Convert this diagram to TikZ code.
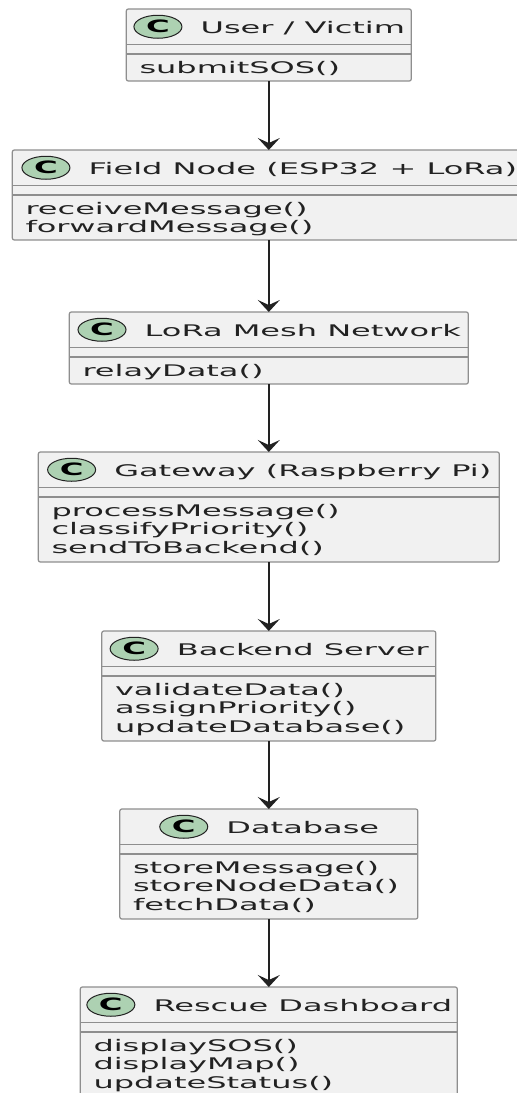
\documentclass[tikz,border=0pt]{standalone}
\usepackage{fontspec}
\setmainfont{DejaVu Sans}[FakeStretch=2.0]
\newfontfamily\spotfont{DejaVu Sans}[FakeStretch=1.9]
\usetikzlibrary{arrows.meta,shapes.geometric}

\definecolor{boxfill}{HTML}{F1F1F1}
\definecolor{boxline}{HTML}{8E8E8E}
\definecolor{spotfill}{HTML}{ADD1B2}
\definecolor{inkdark}{HTML}{222222}

\tikzset{
  classbody/.style={draw=boxline, fill=boxfill, line width=1.2pt,
    rounded corners=2pt, inner sep=0pt, outer sep=0pt},
  sepline/.style={draw=boxline, line width=1.2pt},
  spotnode/.style={ellipse, draw=inkdark, fill=spotfill, line width=1pt,
    minimum width=48pt, minimum height=23pt, inner sep=0pt,
    font=\spotfont\bfseries\fontsize{17}{17}\selectfont, text=black},
  titletext/.style={font=\fontsize{16}{18.5}\selectfont, text=inkdark, inner sep=0pt},
  methodtext/.style={font=\fontsize{16}{18.5}\selectfont, text=inkdark, inner sep=0pt},
  flow/.style={draw=inkdark, line width=1.4pt,
    -{Stealth[length=12pt,width=22pt,inset=5pt]}},
}

% horizontal centre line shared by every class box
\def\cx{268.8}

% #1 name, #2 top, #3 half width, #4 number of methods, #5 class name, #6 methods
\newcommand\classbox[6]{%
  \pgfmathsetmacro\bh{ifthenelse(#4==1,72,ifthenelse(#4==2,90,110))}
  \node[classbody, minimum width={2*#3}, minimum height={\bh}, anchor=north]
    (#1) at (\cx,#2) {};
  \draw[sepline] ([yshift=-35.5pt]#1.north west) -- ([yshift=-35.5pt]#1.north east);
  \draw[sepline] ([yshift=-45pt]#1.north west) -- ([yshift=-45pt]#1.north east);
  \node[titletext, anchor=base] (#1-title) at (\cx+34, #2+24.3) {#5};
  \coordinate (#1-sx) at ([xshift=-42.5pt]#1-title.west);
  \coordinate (#1-sy) at (0, #2+17.75);
  \node[spotnode] (#1-spot) at (#1-sx |- #1-sy) {C};
  \foreach \m [count=\i] in {#6} {
    \node[methodtext, anchor=base west] (#1-m\i)
      at (\cx-#3+13, #2+64+\i*18.5-18.5) {\m};
  }
}

\begin{document}
\begin{tikzpicture}[x=1pt, y=-1pt]
  \useasboundingbox (0,0) rectangle (517,1093);
  \clip (0,0) rectangle (517,1093);

  \classbox{user}{9}{142.5}{1}{User / Victim}{submitSOS()}
  \classbox{field}{150}{256.5}{2}{Field Node (ESP32 + LoRa)}{receiveMessage(),forwardMessage()}
  \classbox{mesh}{312}{199.5}{1}{LoRa Mesh Network}{relayData()}
  \classbox{gateway}{452}{230.5}{3}{Gateway (Raspberry Pi)}{processMessage(),classifyPriority(),sendToBackend()}
  \classbox{backend}{631}{167}{3}{Backend Server}{validateData(),assignPriority(),updateDatabase()}
  \classbox{database}{809}{149}{3}{Database}{storeMessage(),storeNodeData(),fetchData()}
  \classbox{dashboard}{987}{188.5}{3}{Rescue Dashboard}{displaySOS(),displayMap(),updateStatus()}

  \draw[flow] (user.south) -- (field.north);
  \draw[flow] (field.south) -- (mesh.north);
  \draw[flow] (mesh.south) -- (gateway.north);
  \draw[flow] (gateway.south) -- (backend.north);
  \draw[flow] (backend.south) -- (database.north);
  \draw[flow] (database.south) -- (dashboard.north);
\end{tikzpicture}
\end{document}
